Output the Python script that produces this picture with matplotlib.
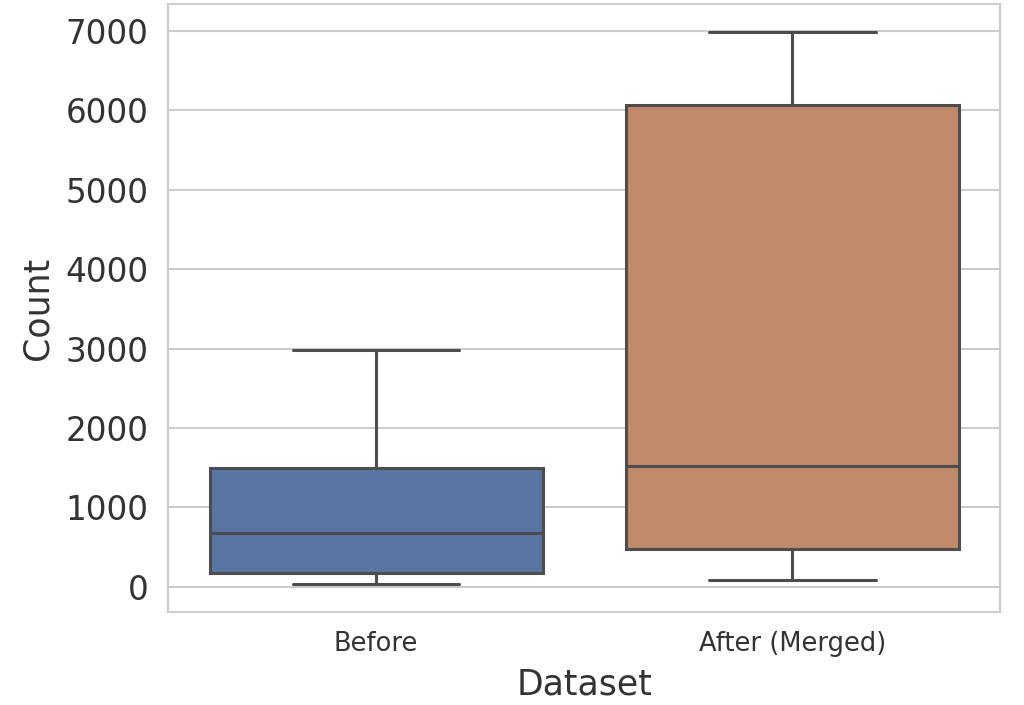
import matplotlib
matplotlib.use("Agg")
import matplotlib.pyplot as plt
import seaborn as sns

# box summary values
datasets = ["Before", "After (Merged)"]
whis_low = [32, 82]
q1 = [170, 469]
medians = [675, 1520]
q3 = [1494, 6072]
whis_high = [2982, 6990]
box_colors = ["#5975A4", "#C0896A"]

sns.set_theme(style="whitegrid")
plt.rcParams["font.family"] = ["DejaVu Sans"]

fig = plt.figure(figsize=(10.24, 7.05), dpi=100)
ax = fig.add_axes([0.164, 0.132, 0.813, 0.862])

stats = []
for i, name in enumerate(datasets):
    stats.append({"label": name, "whislo": whis_low[i], "q1": q1[i], "med": medians[i],
                  "q3": q3[i], "whishi": whis_high[i], "fliers": []})

line = dict(color="#4d4d4d", linewidth=2.2)
bp = ax.bxp(stats, positions=range(len(datasets)), widths=0.8, patch_artist=True,
            showfliers=False, boxprops=dict(edgecolor="#4d4d4d", linewidth=2.2),
            whiskerprops=line, capprops=line, medianprops=line, capwidths=0.4)
for patch, c in zip(bp["boxes"], box_colors):
    patch.set_facecolor(c)

ax.set_xlim(-0.5, 1.5)
ax.set_ylim(-318, 7338)
ax.set_yticks(range(0, 7001, 1000))
ax.grid(axis="x", visible=False)
ax.grid(axis="y", color="#cccccc", linewidth=1.5)
for s in ax.spines.values():
    s.set_color("#cccccc")
    s.set_linewidth(1.5)

ax.tick_params(axis="y", labelsize=23.5, pad=14, length=0, labelcolor="#333333")
ax.tick_params(axis="x", labelsize=18.5, pad=14, length=0, labelcolor="#333333")
ax.set_xlabel("Dataset", fontsize=25, color="#333333", labelpad=7)
ax.set_ylabel("Count", fontsize=25, color="#333333", labelpad=8)

fig.savefig("out.png", dpi=100)
